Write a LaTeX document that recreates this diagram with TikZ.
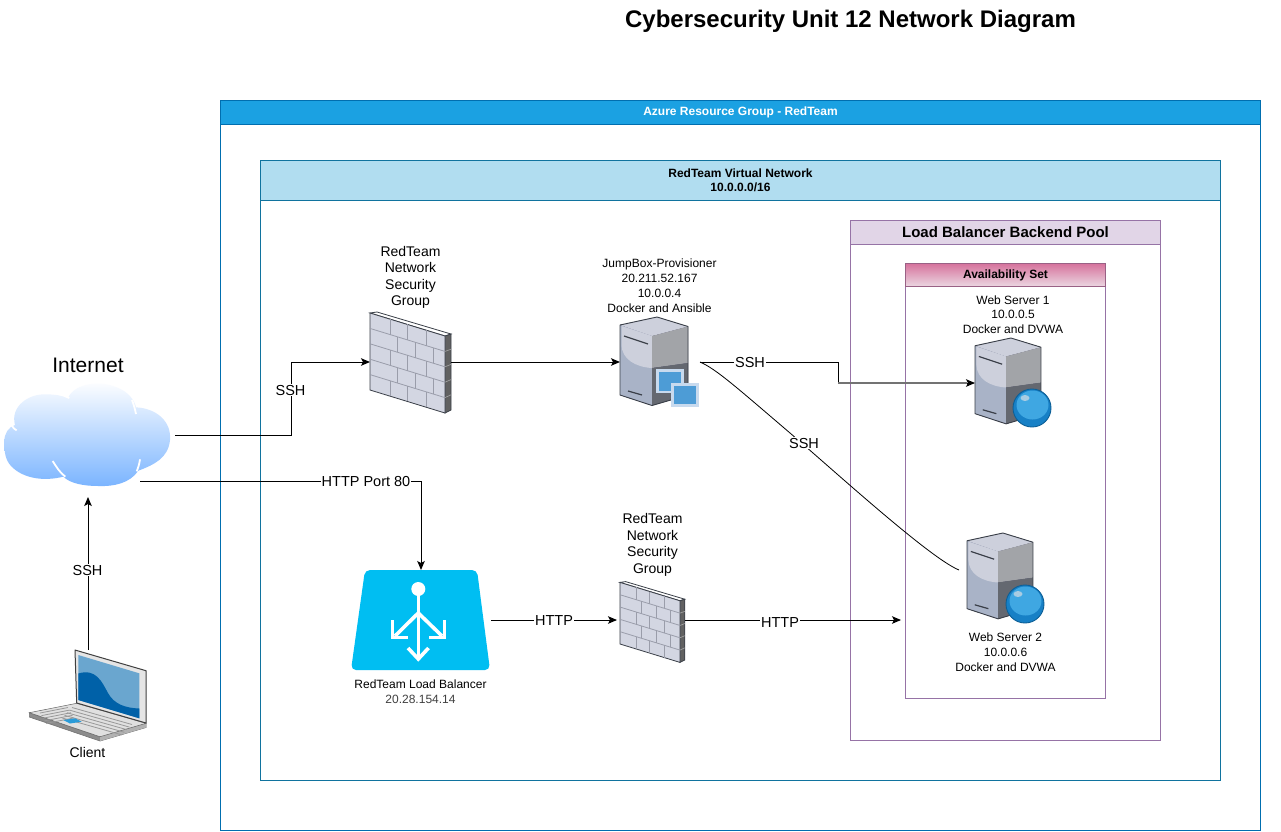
\documentclass[tikz,border=0pt]{standalone}
\usepackage{fontspec}
\setmainfont{Liberation Sans}
\usetikzlibrary{arrows.meta,calc}
\definecolor{azureline}{HTML}{006EAF}
\definecolor{azurehead}{HTML}{1BA1E2}
\definecolor{vnetline}{HTML}{10739E}
\definecolor{vnethead}{HTML}{B1DDF0}
\definecolor{poolline}{HTML}{9673A6}
\definecolor{poolhead}{HTML}{E1D5E7}
\definecolor{lbblue}{HTML}{00BEF2}
\definecolor{fwface}{HTML}{D3D6E2}
\definecolor{fwjoint}{HTML}{9A9DAA}
\definecolor{iconline}{HTML}{3A3F48}
\tikzset{
  every node/.style={inner sep=0pt,outer sep=0pt},
  box/.style={draw,anchor=north west,line width=1pt},
  head/.style={draw,anchor=north west,line width=1pt,align=center,font=\bfseries\fontsize{12}{13.5}\selectfont},
  hidden/.style={anchor=north west},
  lbl/.style={align=center,font=\fontsize{14.5}{16.5}\selectfont},
  grouplbl/.style={align=center,font=\fontsize{14}{16.5}\selectfont},
  small/.style={align=center,font=\fontsize{12}{15}\selectfont},
  conn/.style={line width=1pt,black},
  arr/.style={conn,-{Stealth[length=9pt,width=7.5pt,inset=2pt]}},
  onwire/.style={lbl,fill=white,inner xsep=1pt,inner ysep=1pt}
}
\newcommand{\fwicon}[2]{%
\begin{scope}[shift={(#1)},scale=#2]
  \filldraw[draw=iconline,fill=white,line width=.8pt] (0,3)--(7,2)--(81,24)--(75,26)--cycle;
  \filldraw[draw=iconline,fill=black!62,line width=.8pt] (75,26)--(81,24)--(81,100)--(75,103)--cycle;
  \filldraw[draw=iconline,fill=fwface,line width=.8pt] (0,3)--(75,26)--(75,103)--(0,80)--cycle;
  \foreach \r in {1,2,3,4}{
    \draw[fwjoint,line width=.8pt] (0,{3+\r*15.4})--(75,{26+\r*15.4});
    \draw[black!35,line width=.6pt] (75,{26+\r*15.4})--(81,{24+\r*15.2});
  }
  \foreach \r in {0,2,4}\foreach \c in {20,37,56}{
    \draw[fwjoint,line width=.8pt] (\c,{3+.307*\c+\r*15.4})--(\c,{3+.307*\c+(\r+1)*15.4});
  }
  \foreach \r in {1,3}\foreach \c in {27,45,63}{
    \draw[fwjoint,line width=.8pt] (\c,{3+.307*\c+\r*15.4})--(\c,{3+.307*\c+(\r+1)*15.4});
  }
\end{scope}}
\newcommand{\srvicon}[2]{%
\begin{scope}[shift={(#1)},scale=#2]
  \fill[black!65!blue!35!gray] (37,0)--(68,9.5)--(68,78)--(32,88.5)--(0,78)--(0,8)--cycle;
  \fill[fill={rgb,255:red,169;green,179;blue,199}] (0,8)--(32,19)--(32,88.5)--(0,78)--cycle;
  \fill[fill={rgb,255:red,205;green,208;blue,220}] (37,0)--(68,9.5)--(32,19)--(0,8)--cycle;
  \fill[fill={rgb,255:red,205;green,208;blue,220}] (1.5,9)--(32,19)--(32,51) .. controls (15,50) and (2,42) .. (1.5,28)--cycle;
  \fill[fill={rgb,255:red,162;green,164;blue,168}] (32,19)--(68,9.5)--(68,46)--(32,51)--cycle;
  \fill[fill={rgb,255:red,100;green,104;blue,112}] (32,51)--(68,46)--(68,78)--(32,88.5)--cycle;
  \draw[iconline,line width=.9pt,line join=round] (37,0)--(68,9.5)--(68,78)--(32,88.5)--(0,78)--(0,8)--cycle;
  \draw[iconline,line width=1.2pt] (4,19)--(28,27);
  \draw[iconline,line width=1.2pt] (8,74)--(22,78);
\end{scope}}
\definecolor{globebase}{HTML}{1780C6}
\definecolor{globelight}{HTML}{3FA7E2}
\definecolor{globeedge}{HTML}{0D5F96}
\definecolor{globehigh}{HTML}{A9CCE2}
\newcommand{\globeicon}[1]{%
\begin{scope}[shift={(#1)}]
  \fill[globebase] (0,0) circle (19);
  \fill[globelight] (0.5,-3) ellipse (16 and 14.5);
  \fill[globehigh] (-7,-10) ellipse (4.5 and 3);
  \draw[globeedge,line width=.9pt] (0,0) circle (19);
\end{scope}}
\begin{document}
\begin{tikzpicture}[x=1pt,y=-1pt]
\useasboundingbox (0,0) rectangle (1281,831);
\fill[white] (0,0) rectangle (1281,831);

\node[font=\bfseries\fontsize{24}{26}\selectfont] (title) at (850.5,21) {Cybersecurity Unit 12 Network Diagram};

% containers
\node[box,draw=azureline,minimum width=1040pt,minimum height=730pt] (azure) at (220.5,100.5) {};
\node[head,draw=azureline,fill=azurehead,text=white,minimum width=1040pt,minimum height=23.5pt] (azureh) at (220.5,100.5) {\raisebox{-1.5pt}{Azure Resource Group - RedTeam}};
\node[box,draw=vnetline,minimum width=960pt,minimum height=620pt] (vnet) at (260.5,160.5) {};
\node[head,draw=vnetline,fill=vnethead,minimum width=960pt,minimum height=40pt] (vneth) at (260.5,160.5) {RedTeam Virtual Network\\10.0.0.0/16};
\node[box,draw=poolline,minimum width=310pt,minimum height=520pt] (pool) at (850.5,220.5) {};
\node[head,draw=poolline,fill=poolhead,minimum width=310pt,minimum height=24pt,font=\bfseries\fontsize{15}{16}\selectfont] (poolh) at (850.5,220.5) {\raisebox{-1pt}{Load Balancer Backend Pool}};
\node[box,draw=poolline,minimum width=200pt,minimum height=435pt] (avail) at (905.5,263.5) {};
\node[head,draw={rgb,255:red,153;green,97;blue,133},top color={rgb,255:red,214;green,115;blue,157},bottom color={rgb,255:red,235;green,215;blue,226},shading angle=0,minimum width=200pt,minimum height=23pt,font=\bfseries\fontsize{12}{13}\selectfont] (availh) at (905.5,263.5) {\raisebox{-1.5pt}{Availability Set}};

% cloud
\begin{scope}[shift={(0,350)},scale=1/3]
  \shade[bottom color={rgb,255:red,122;green,180;blue,255},top color=white]
    (13,275) .. controls (13,250) and (25,232) .. (45,225)
    .. controls (30,170) and (85,130) .. (140,133)
    .. controls (165,133) and (190,138) .. (205,142)
    .. controls (225,100) and (300,90) .. (350,112)
    .. controls (385,125) and (403,150) .. (408,172)
    .. controls (470,175) and (515,215) .. (510,270)
    .. controls (505,325) and (460,345) .. (415,362)
    .. controls (390,400) and (340,410) .. (295,408)
    .. controls (250,408) and (210,400) .. (190,380)
    .. controls (130,395) and (70,385) .. (35,350)
    .. controls (15,330) and (13,305) .. (13,275) -- cycle;
  \draw[white,line width=1.8pt] (158,333) .. controls (170,352) and (180,368) .. (196,380);
  \draw[white,line width=1.8pt] (420,328) .. controls (418,342) and (415,352) .. (410,364);
  \draw[white,line width=1.8pt] (396,150) .. controls (402,165) and (405,178) .. (408,192);
  \draw[white,line width=1.8pt] (175,132) .. controls (190,136) and (197,139) .. (208,144);
  \draw[white,line width=1.8pt] (36,228) .. controls (40,234) and (44,238) .. (50,241);
\end{scope}
\node[hidden,minimum width=171pt,minimum height=101pt] (cloud) at (4,385) {};
\node[font=\fontsize{21}{24}\selectfont] (internet) at (88,365) {Internet};

% laptop
\filldraw[draw=black!55,fill=black!45,line width=.6pt] (29.3,712.7)--(29.3,717)--(100,741)--(146,727.5)--(146,723.3)--(100,736.7)--cycle;
\fill[black!30] (100,736.7)--(100,741)--(146,727.5)--(146,723.3)--cycle;
\filldraw[draw=black!60,fill=black!12,line width=.5pt] (29.3,712.7)--(76.7,703.3)--(146,723.3)--(100,736.7)--cycle;
\foreach \t in {0,1,2,3,4}{
  \draw[black!40,line width=.8pt] ($(40,{713+\t*2.6})+(\t*1.5,0)$)--+(28,-5.5);
  \draw[black!40,line width=.8pt] ($(72,{707.5+\t*2.6})+(\t*-2.5,0)$)--+(60,17);
}
\fill[fill={rgb,255:red,42;green,155;blue,216}] (63.3,720)--(75,718.3)--(81.7,721.7)--(70,723.5)--cycle;
\filldraw[draw=black!75,fill=black!10,line width=1pt,line join=round] (75,650)--(146,670.7)--(146,723)--(76.7,703)--cycle;
\fill[fill={rgb,255:red,106;green,166;blue,207}] (78.3,655)--(139.3,673.3)--(139.3,718.3)--(78.3,700)--cycle;
\fill[fill={rgb,255:red,0;green,97;blue,168}] (78.3,673.5) .. controls (96,668) and (102,682) .. (108,693) .. controls (114,704) and (125,708) .. (139.3,708.5) -- (139.3,718.3)--(78.3,700)--cycle;
\node[hidden,minimum width=118pt,minimum height=92pt] (laptop) at (29,650) {};
\node[small,font=\fontsize{14}{16}\selectfont] (client) at (87.5,752) {Client};

% firewalls
\fwicon{370,310}{1}
\node[hidden,minimum width=81pt,minimum height=101pt] (fw1) at (370,311.5) {};
\node[grouplbl] (fw1t) at (410.5,277.5) {RedTeam\\Network\\Security\\Group};
\fwicon{620,580}{.8}
\node[hidden,minimum width=65pt,minimum height=80pt] (fw2) at (620,580) {};
\node[grouplbl] (fw2t) at (652.5,545) {RedTeam\\Network\\Security\\Group};

% servers
\srvicon{620,317}{1}
\fill[fill={rgb,255:red,200;green,218;blue,238}] (656,369) rectangle (684,393);
\fill[fill={rgb,255:red,77;green,156;blue,214}] (659,371.5) rectangle (681,390.5);
\fill[fill={rgb,255:red,200;green,218;blue,238}] (671,383) rectangle (699,407);
\fill[fill={rgb,255:red,77;green,156;blue,214}] (674,386) rectangle (696,404);
\node[hidden,minimum width=80pt,minimum height=90pt] (jump) at (620,317) {};
\node[small] (jumpt) at (659.5,286) {JumpBox-Provisioner\\20.211.52.167\\10.0.0.4\\Docker and Ansible};

\srvicon{975,338}{.97}
\globeicon{1032,408}
\node[hidden,minimum width=77pt,minimum height=90pt] (web1) at (975,338) {};
\node[small,font=\fontsize{12}{14.7}\selectfont] (web1t) at (1013,314.5) {Web Server 1\\10.0.0.5\\Docker and DVWA};

\srvicon{967,533}{.97}
\globeicon{1025,604}
\node[hidden,minimum width=77pt,minimum height=90pt] (web2) at (967,533) {};
\node[small,font=\fontsize{12}{14.7}\selectfont] (web2t) at (1005.5,652) {Web Server 2\\10.0.0.6\\Docker and DVWA};

% load balancer
\fill[lbblue,rounded corners=5pt] (365,570)--(477,570)--(490,670)--(351,670)--cycle;
\begin{scope}[white,line width=3.6pt]
  \fill (418.3,589) circle (7);
  \draw (418.3,589)--(418.3,658);
  \draw (418.3,613)--(395,636);
  \draw (418.3,613)--(442,636);
  \draw (392.5,620)--(392.5,637.5)--(408,637.5);
  \draw (444.5,620)--(444.5,637.5)--(429,637.5);
  \draw (408,648)--(418.3,659)--(428.5,648);
\end{scope}
\node[hidden,minimum width=140pt,minimum height=100pt] (lb) at (351,570) {};
\node[small] (lbt) at (420.5,692) {RedTeam Load Balancer\\{\color{black!75}20.28.154.14}};

% connectors
\coordinate (poolin) at (901,620);
\coordinate (curveend) at (959,570);
\draw[arr] (cloud.east) -- ++(116,0) |- (fw1.west);
\node[onwire] (l1) at (290.5,390) {SSH};
\draw[arr] (fw1.east) -- (jump.west);
\draw[arr] (jump.east) -- ++(138,0) |- (web1.west);
\draw[black!55,line width=1.6pt] (838,383) -- ([xshift=-8pt]web1.west);
\node[onwire] (l2) at (750,362) {SSH};
\draw[line width=.8pt,black] (jump.east) .. controls (716,369) and (735,386) .. (790,433) .. controls (840,476) and (930,558) .. (curveend);
\node[onwire] (l3) at (804,443) {SSH};
\draw[arr] ([xshift=50.5pt,yshift=5pt]cloud.south) -| (lb.north);
\node[onwire] (l4) at (366,481) {HTTP Port 80};
\draw[arr] (laptop.north -| internet.south) -- ([yshift=-11pt]cloud.south -| internet.south);
\node[onwire] (l5) at (87.5,570) {SSH};
\draw[arr] (lb.east) -- ([xshift=-3pt]fw2.west);
\node[onwire] (l6) at (554,620) {HTTP};
\draw[arr] (fw2.east) -- (poolin);
\node[onwire] (l7) at (780,622) {HTTP};
\end{tikzpicture}
\end{document}
